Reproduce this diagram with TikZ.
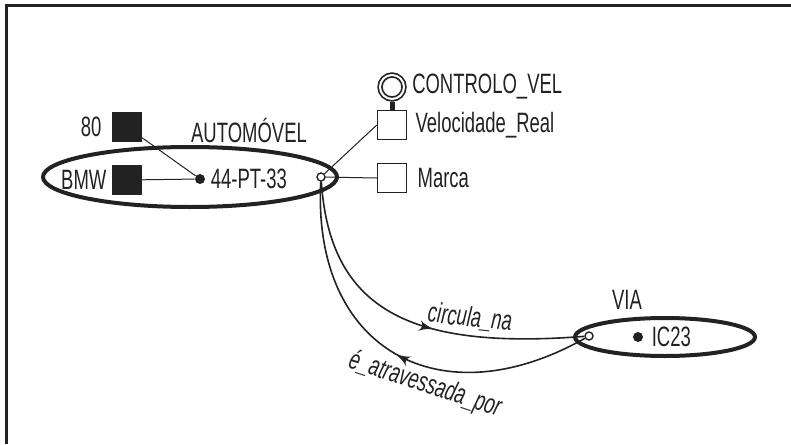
\documentclass[tikz,border=0pt]{standalone}
\usepackage{fontspec}
\setmainfont[FakeStretch=0.66]{Liberation Sans}
\usetikzlibrary{shapes.geometric, arrows, positioning, decorations.markings}
\definecolor{InkGrey}{HTML}{222222}

\begin{document}
\begin{tikzpicture}[x=0.5pt, y=-0.5pt, >=latex', every node/.style={text=InkGrey, font=\fontsize{14}{16}\selectfont}]
    \tikzstyle{entity} = [ellipse, draw=InkGrey, line width=2pt, inner sep=0pt]
    \tikzstyle{attr} = [rectangle, draw=InkGrey, line width=0.7pt, minimum size=14.5pt, inner sep=0pt]
    \tikzstyle{valattr} = [attr, fill=InkGrey]
    \tikzstyle{inst} = [circle, fill=InkGrey, inner sep=0pt, minimum size=5pt]
    \tikzstyle{port} = [circle, draw=InkGrey, fill=white, line width=0.7pt, inner sep=0pt, minimum size=4pt]
    \tikzstyle{lbl} = [inner sep=1pt]
    \tikzstyle{link} = [draw=InkGrey, line width=0.5pt]
    \tikzstyle{role} = [draw=InkGrey, line width=0.8pt, postaction={decorate}]
    \tikzset{tipat/.style={decoration={markings, mark=at position #1 with {\arrow[InkGrey, scale=1.4]{>}}}}}

    \useasboundingbox (0,0) rectangle (791,444);
    \draw [InkGrey, line width=1.5pt] (6,444) -- (6,6) -- (791,6);

    % AUTOMOVEL
    \node [entity, minimum width=147pt, minimum height=30pt] (auto) at (190,177) {};
    \node [lbl] (autoname) at (249,130) {AUTOMÓVEL};
    \node [inst] (plate) at (200,179) {};
    \node [lbl, right=1.5pt of plate] (platetxt) {44-PT-33};
    \node [valattr] (speedval) at (127,127) {};
    \node [lbl, left=4pt of speedval] (speedtxt) {80};
    \node [valattr] (brandval) at (127,180) {};
    \node [lbl, left=1.5pt of brandval] (brandtxt) {BMW};
    \node [port] (autoport) at (321,177) {};

    % attributes
    \node [attr] (vel) at (392,125) {};
    \node [lbl, right=3pt of vel] (veltxt) {Velocidade\_Real};
    \node [attr] (marca) at (392,178) {};
    \node [lbl, right=4pt of marca] (marcatxt) {Marca};
    \node [circle, draw=InkGrey, double, double distance=1pt, line width=0.85pt, minimum size=12pt, inner sep=0pt] (ctrl) at (392,87) {};
    \node [lbl, right=2.5pt of ctrl] (ctrltxt) {CONTROLO\_VEL};

    % VIA
    \node [entity, minimum width=90pt, minimum height=19pt] (via) at (665,337) {};
    \node [lbl] (vianame) at (627,300) {VIA};
    \node [inst] (ic) at (638,337) {};
    \node [lbl, right=3pt of ic] (ictxt) {IC23};
    \node [port] (viaport) at (589,336) {};

    \path [link] (speedval) -- (plate);
    \path [link] (brandval) -- (plate);
    \path [link] (autoport) -- (vel.west);
    \path [link] (autoport) -- (marca.west);
    \draw [InkGrey, line width=2.5pt, shorten <=1.3pt] (ctrl.south) -- (vel.north);

    \path [role, tipat=0.57] (autoport) .. controls (330,310) and (410,350) .. (viaport);
    \path [role, tipat=0.5] (viaport) .. controls (440,420) and (312,350) .. (autoport);
    \node [lbl, rotate=-6, font=\fontsize{14}{16}\selectfont\itshape] (circ) at (470,318) {circula\_na};
    \node [lbl, rotate=-18, font=\fontsize{14}{16}\selectfont\itshape] (atrav) at (425,385) {é\_atravessada\_por};
\end{tikzpicture}
\end{document}
